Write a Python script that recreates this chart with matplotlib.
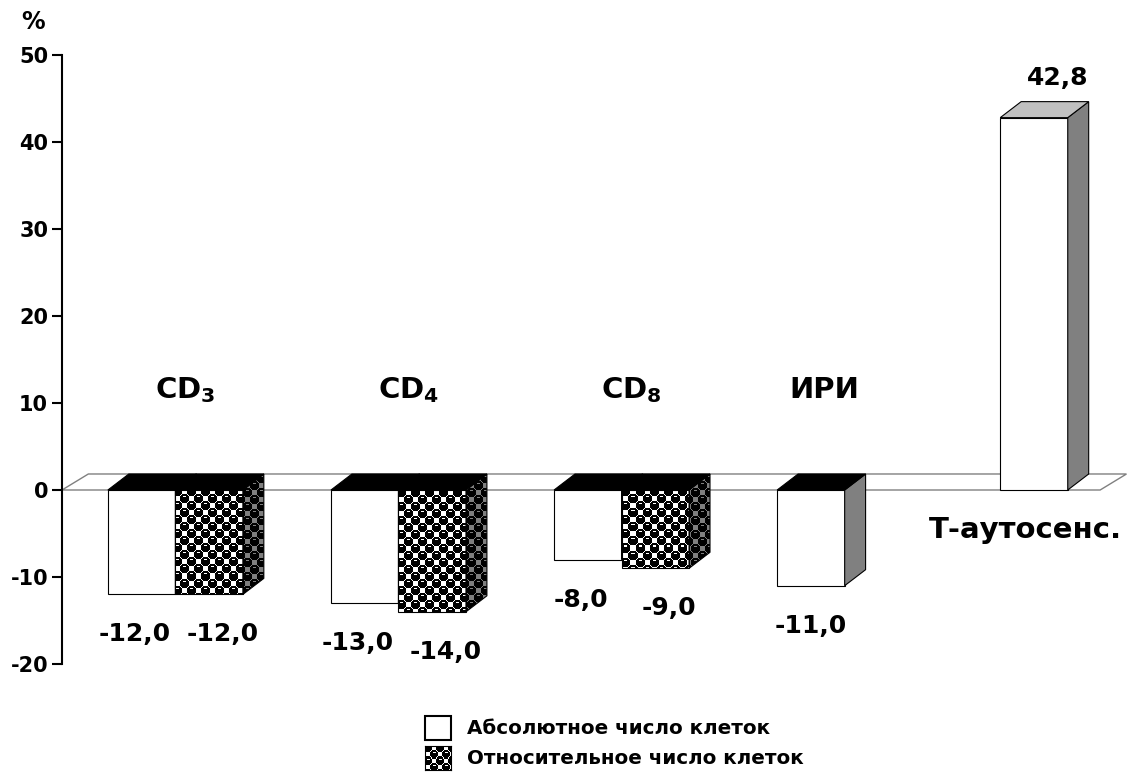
import numpy as np
import matplotlib.pyplot as plt
from matplotlib.patches import Polygon, Rectangle

plt.rcParams['font.family'] = ['DejaVu Sans']
plt.rcParams['font.weight'] = 'bold'
plt.rcParams['mathtext.fontset'] = 'custom'
plt.rcParams['mathtext.rm'] = 'DejaVu Sans:bold'

# data
categories = [r'$\mathrm{CD_3}$', r'$\mathrm{CD_4}$', r'$\mathrm{CD_8}$', 'ИРИ', 'Т-аутосенс.']
absolute = [-12.0, -13.0, -8.0, -11.0, 42.8]
relative = [-12.0, -14.0, -9.0, None, None]
legend_labels = ['Абсолютное число клеток', 'Относительное число клеток']
yticks = [-20, -10, 0, 10, 20, 30, 40, 50]

W, H = 1144, 779
XMAX = 1082 / 67.5
DX, DY = 0.31, 1.84       # bar depth
FDX = 0.39                # floor depth


def pattern(h, w, bg, cell=7, rad=0.66):
    # checkerboard of black balls, like the old "spheres" fill
    yy, xx = np.mgrid[0:h, 0:w]
    i, j = xx // cell, yy // cell
    half = (cell - 1) / 2
    mind = np.full((h, w), 99.0)
    for di, dj in [(0, 0), (1, 0), (-1, 0), (0, 1), (0, -1)]:
        ci, cj = i + di, j + dj
        d = np.hypot(xx - (ci * cell + half), yy - (cj * cell + half))
        d[(ci + cj) % 2 != 0] = 99.0
        mind = np.minimum(mind, d)
    img = np.ones((h, w, 3)) * np.array(bg)
    img[mind <= cell * rad] = 0.0
    black_cell = (i + j) % 2 == 0
    cy = yy % cell
    cx = xx % cell
    img[black_cell & (cy == 1) & (cx >= 2) & (cx <= 4)] = np.array(bg)
    return img


fig = plt.figure(figsize=(W / 100, H / 100), dpi=100)
ax = fig.add_axes([62 / W, 115 / H, 1082 / W, 609 / H])

pat_front = pattern(609, 1082, (1, 1, 1))
pat_side = pattern(609, 1082, (0.5, 0.5, 0.5))


def clipped_pattern(img, patch, z):
    im = ax.imshow(img, extent=(0, XMAX, -20, 50), origin='upper', aspect='auto',
                   interpolation='nearest', zorder=z)
    im.set_clip_path(patch)


def bar3d(x0, v, patterned, z):
    lo, hi = min(v, 0), max(v, 0)
    rect = ax.bar(x0, v, width=1, align='edge', facecolor='none' if patterned else 'white',
                  edgecolor='black', linewidth=0.8, zorder=z + 0.5)[0]
    if patterned:
        clipped_pattern(pat_front, rect, z)
    side = Polygon([(x0 + 1, lo), (x0 + 1, hi), (x0 + 1 + DX, hi + DY), (x0 + 1 + DX, lo + DY)],
                   closed=True, facecolor='none' if patterned else '#808080',
                   edgecolor='black', linewidth=0.8, zorder=z + 0.5)
    ax.add_patch(side)
    if patterned:
        clipped_pattern(pat_side, side, z)
    top_y = 0 if v < 0 else v
    top = Polygon([(x0, top_y), (x0 + 1, top_y), (x0 + 1 + DX, top_y + DY), (x0 + DX, top_y + DY)],
                  closed=True, facecolor='black' if v < 0 else '#c0c0c0',
                  edgecolor='black', linewidth=0.8, zorder=z + 0.5)
    ax.add_patch(top)


def fmt(v):
    return f'{v:.1f}'.replace('.', ',')


# floor
floor = Polygon([(0, 0), (15.38, 0), (15.38 + FDX, DY), (FDX, DY)], closed=True,
                facecolor='white', edgecolor='#808080', linewidth=1, zorder=1)
ax.add_patch(floor)

lefts = [0.68 + 3.305 * i for i in range(len(categories))]
for i, (cat, a, r) in enumerate(zip(categories, absolute, relative)):
    x0 = lefts[i]
    z = 2 + i * 2
    bar3d(x0, a, False, z)
    if a < 0:
        shift = -0.1 if r is not None else 0.0
        ax.text(x0 + 0.5 + shift, a - 4.6, fmt(a), ha='center', va='center', fontsize=18,
                fontweight='bold', zorder=20)
    else:
        ax.text(x0 + 0.85, a + 4.6, fmt(a), ha='center', va='center', fontsize=18,
                fontweight='bold', zorder=20)
    if r is not None:
        bar3d(x0 + 1, r, True, z + 1)
        ax.text(x0 + 1.5 + 0.2, r - 4.6, fmt(r), ha='center', va='center', fontsize=18,
                fontweight='bold', zorder=20)
    if a < 0:
        cx = x0 + (1.15 if r is not None else 0.7)
        ax.text(cx, 10.6, cat, ha='center', va='baseline', fontsize=21, fontweight='bold')
    else:
        ax.text(x0 + 0.38, -4.6, cat, ha='center', va='center', fontsize=21, fontweight='bold')

ax.set_xlim(0, XMAX)
ax.set_ylim(-20, 50)
ax.set_yticks(yticks)
ax.set_yticklabels([str(t) for t in yticks], fontsize=15, fontweight='bold')
ax.set_xticks([])
for s in ['top', 'right', 'bottom']:
    ax.spines[s].set_visible(False)
ax.spines['left'].set_linewidth(1.5)
ax.tick_params(axis='y', direction='out', length=7, width=1.5, pad=3)
fig.text(33 / W, 1 - 22 / H, '%', ha='center', va='center', fontsize=17, fontweight='bold')

# legend
fig.patches.append(Rectangle((425 / W, 1 - 740 / H), 26 / W, 24 / H, transform=fig.transFigure,
                             facecolor='white', edgecolor='black', linewidth=1.5))
lax = fig.add_axes([425 / W, 1 - 770 / H, 26 / W, 24 / H])
lax.imshow(pattern(24, 26, (1, 1, 1), cell=6), interpolation='nearest', aspect='auto')
lax.set_xticks([])
lax.set_yticks([])
fig.text(467 / W, 1 - 728 / H, legend_labels[0], ha='left', va='center', fontsize=14.3, fontweight='bold')
fig.text(467 / W, 1 - 758 / H, legend_labels[1], ha='left', va='center', fontsize=14.3, fontweight='bold')

fig.savefig('out.png', dpi=100)
